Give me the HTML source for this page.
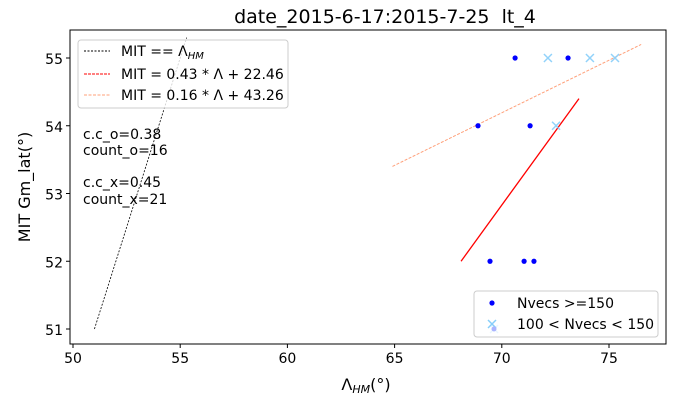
<!DOCTYPE html>
<html><head><meta charset="utf-8"><style>
body{margin:0;background:#fff;font-family:"Liberation Sans","DejaVu Sans",sans-serif}
svg text{font-family:"DejaVu Sans","Liberation Sans",sans-serif;white-space:pre}
</style></head><body>
<svg id="c" width="700" height="400" viewBox="0 0 700 400"></svg>
<script>
const dotX=[70.62,73.09,68.89,71.32,69.45,71.04,71.5];
const dotY=[55,55,54,54,52,52,52];
const crossX=[72.15,74.11,75.28,72.53,69.64];
const crossY=[55,55,55,54,51];
const identityLine=[[51,51],[55.3,55.3]];
const redLine=[[68.1,52.0],[73.6,54.4]];
const orangeLine=[[64.9,53.4],[76.5,55.2]];
const xTicks=[50,55,60,65,70,75];
const yTicks=[51,52,53,54,55];
const L=70,R=666,T=30,B=344;
const sx=v=>73+(v-50)*21.44;
const sy=v=>329-(v-51)*67.75;
const svg=document.getElementById('c');
const NS='http://www.w3.org/2000/svg';
function mk(tag,attrs,parent){const e=document.createElementNS(NS,tag);for(const k in attrs)e.setAttribute(k,attrs[k]);(parent||svg).appendChild(e);return e;}
let t=mk('text',{x:385,y:23,'font-size':19,'text-anchor':'middle'});t.textContent='date_2015-6-17:2015-7-25  lt_4';


let ax=mk('rect',{x:L,y:T,width:R-L,height:B-T,fill:'none',stroke:'#000','stroke-width':1});


xTicks.forEach(v=>{mk('line',{x1:sx(v),x2:sx(v),y1:B,y2:B+4,stroke:'#000'});
 const e=mk('text',{x:sx(v),y:B+19,'font-size':14,'text-anchor':'middle'});e.textContent=v;
 
 });
yTicks.forEach(v=>{mk('line',{x1:L-4,x2:L,y1:sy(v),y2:sy(v),stroke:'#000'});
 const e=mk('text',{x:L-7,y:sy(v)+6,'font-size':14,'text-anchor':'end'});e.textContent=v;
 
 });
let xl=mk('text',{x:366,y:390,'font-size':16,'text-anchor':'middle'});xl.innerHTML='Λ<tspan font-size="11" dy="3" font-style="italic">HM</tspan><tspan dy="-3">(°)</tspan>';


let yl=mk('text',{x:30,y:187,'font-size':16,'text-anchor':'middle',transform:'rotate(-90 30 187)'});yl.textContent='MIT Gm_lat(°)';


function line(p,col,dash,name,w){const e=mk('line',{x1:sx(p[0][0]),y1:sy(p[0][1]),x2:sx(p[1][0]),y2:sy(p[1][1]),stroke:col,'stroke-width':w,'stroke-dasharray':dash});
 
 }
line(identityLine,'#000','2 1.5','identity-line',0.8);
line(orangeLine,'#ffa07a','3 1.5','fit-line-x',1);
line(redLine,'#ff0000','none','fit-line-o',1.3);
dotX.forEach((v,i)=>{const e=mk('circle',{cx:sx(v),cy:sy(dotY[i]),r:2.6,fill:'#0000ff'});
 
 });
crossX.forEach((v,i)=>{const x=sx(v),y=sy(crossY[i]);const g=mk('g',{stroke:'#87cefa','stroke-width':1.5,opacity:0.9});
 
 
 mk('line',{x1:x-4,y1:y-4,x2:x+4,y2:y+4},g);mk('line',{x1:x-4,y1:y+4,x2:x+4,y2:y-4},g);});
[['c.c_o=0.38',134],['count_o=16',150],['c.c_x=0.45',182],['count_x=21',199]].forEach(a=>{const e=mk('text',{x:83,y:a[1]+5,'font-size':14});e.textContent=a[0];
 
 });
const lg=mk('g',{});


mk('rect',{x:78,y:40,width:210,height:68,rx:3,fill:'#fff','fill-opacity':0.8,stroke:'#ccc'},lg);
[['#000','MIT == Λ',51,'2 1.5'],['#ff0000','MIT = 0.43 * Λ + 22.46',74,'3 1'],['#ffa07a','MIT = 0.16 * Λ + 43.26',95,'3 1.5']].forEach((a,i)=>{
 mk('line',{x1:84,x2:110,y1:a[2],y2:a[2],stroke:a[0],'stroke-dasharray':a[3],'stroke-width':1},lg);
 const e=mk('text',{x:121,y:a[2]+5,'font-size':14},lg);e.textContent=a[1];
 if(i==0){const s=mk('tspan',{'font-size':10,'font-style':'italic',dy:3},e);s.textContent='HM';}
 
 });
const lg2=mk('g',{});


mk('rect',{x:474,y:291,width:184,height:46,rx:3,fill:'#fff','fill-opacity':0.8,stroke:'#ccc'},lg2);
mk('circle',{cx:492,cy:303,r:2.6,fill:'#0000ff'},lg2);
let g2=mk('g',{stroke:'#87cefa','stroke-width':1.5},lg2);mk('line',{x1:488,y1:320,x2:496,y2:328},g2);mk('line',{x1:488,y1:328,x2:496,y2:320},g2);
mk('circle',{cx:494,cy:329,r:2.5,fill:'#aab4ff'},lg2);
let e1=mk('text',{x:517,y:308,'font-size':14},lg2);e1.textContent='Nvecs >=150';


let e2=mk('text',{x:517,y:329,'font-size':14},lg2);e2.textContent='100 < Nvecs < 150';


</script>
</body></html>
